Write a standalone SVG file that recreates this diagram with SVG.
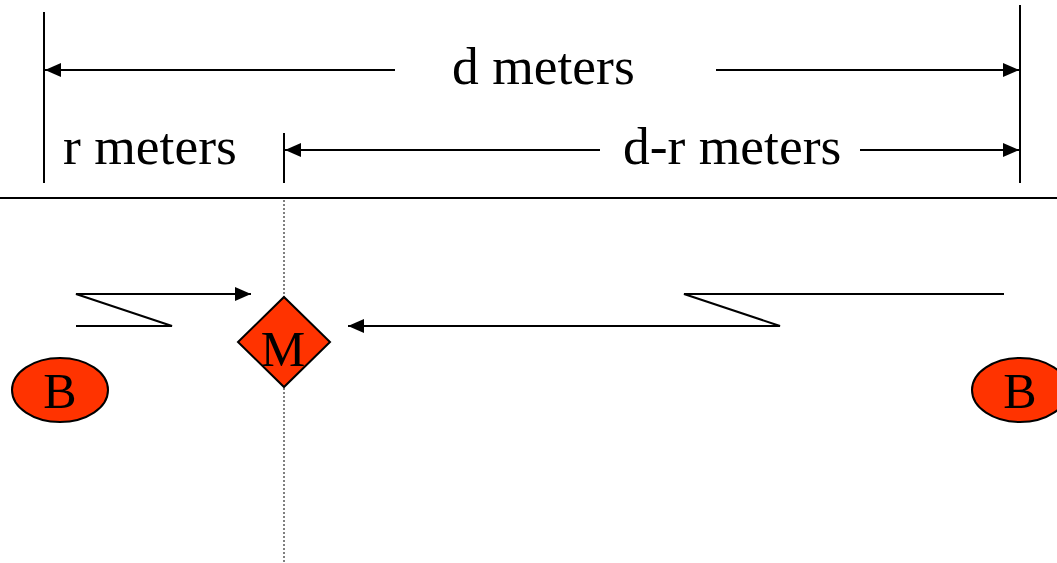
<svg xmlns="http://www.w3.org/2000/svg" width="1057" height="563" viewBox="0 0 1057 563">
<defs>
<marker id="ah" markerWidth="17" markerHeight="14" refX="16" refY="7" orient="auto" markerUnits="userSpaceOnUse">
<path d="M0,0 L16,7 L0,14 Z" fill="#000"/>
</marker>
<style>
.ln{stroke:#000;stroke-width:2;fill:none}
.dot{stroke:#000;stroke-width:1;stroke-dasharray:2,2;fill:none}
.lbl{font-family:"Liberation Serif",serif;font-size:53.5px;fill:#000}
.nt{font-family:"Liberation Serif",serif;font-size:50px;fill:#000;text-anchor:middle}
.sh{fill:#ff3300;stroke:#000;stroke-width:2}
</style>
</defs>
<rect width="1057" height="563" fill="#fff"/>
<g id="connectors">
<line class="ln" x1="44" y1="12" x2="44" y2="183"/>
<line class="ln" x1="1020" y1="5" x2="1020" y2="183"/>
<line class="ln" x1="284" y1="133" x2="284" y2="183"/>
<line class="ln" x1="0" y1="198" x2="1057" y2="198"/>
<line class="dot" x1="284" y1="200" x2="284" y2="563"/>
<line class="ln" x1="395" y1="70" x2="45" y2="70" marker-end="url(#ah)"/>
<line class="ln" x1="716" y1="70" x2="1019" y2="70" marker-end="url(#ah)"/>
<line class="ln" x1="600" y1="150" x2="285" y2="150" marker-end="url(#ah)"/>
<line class="ln" x1="860" y1="150" x2="1019" y2="150" marker-end="url(#ah)"/>
<polyline class="ln" points="76,326 172,326 76,294 251,294" marker-end="url(#ah)"/>
<polyline class="ln" points="1004,294 684,294 780,326 348,326" marker-end="url(#ah)"/>
</g>
<text class="lbl" x="452" y="84">d meters</text>
<text class="lbl" x="63" y="164">r meters</text>
<text class="lbl" x="623" y="164">d-r meters</text>
<g id="M">
<polygon class="sh" points="284,297 330,342 284,387 238,342"/>
<text class="nt" x="283" y="366">M</text>
</g>
<g id="B1">
<ellipse class="sh" cx="60" cy="390" rx="48" ry="32"/>
<text class="nt" x="60" y="408">B</text>
</g>
<g id="B2">
<ellipse class="sh" cx="1020" cy="390" rx="48" ry="32"/>
<text class="nt" x="1020" y="408">B</text>
</g>
</svg>
